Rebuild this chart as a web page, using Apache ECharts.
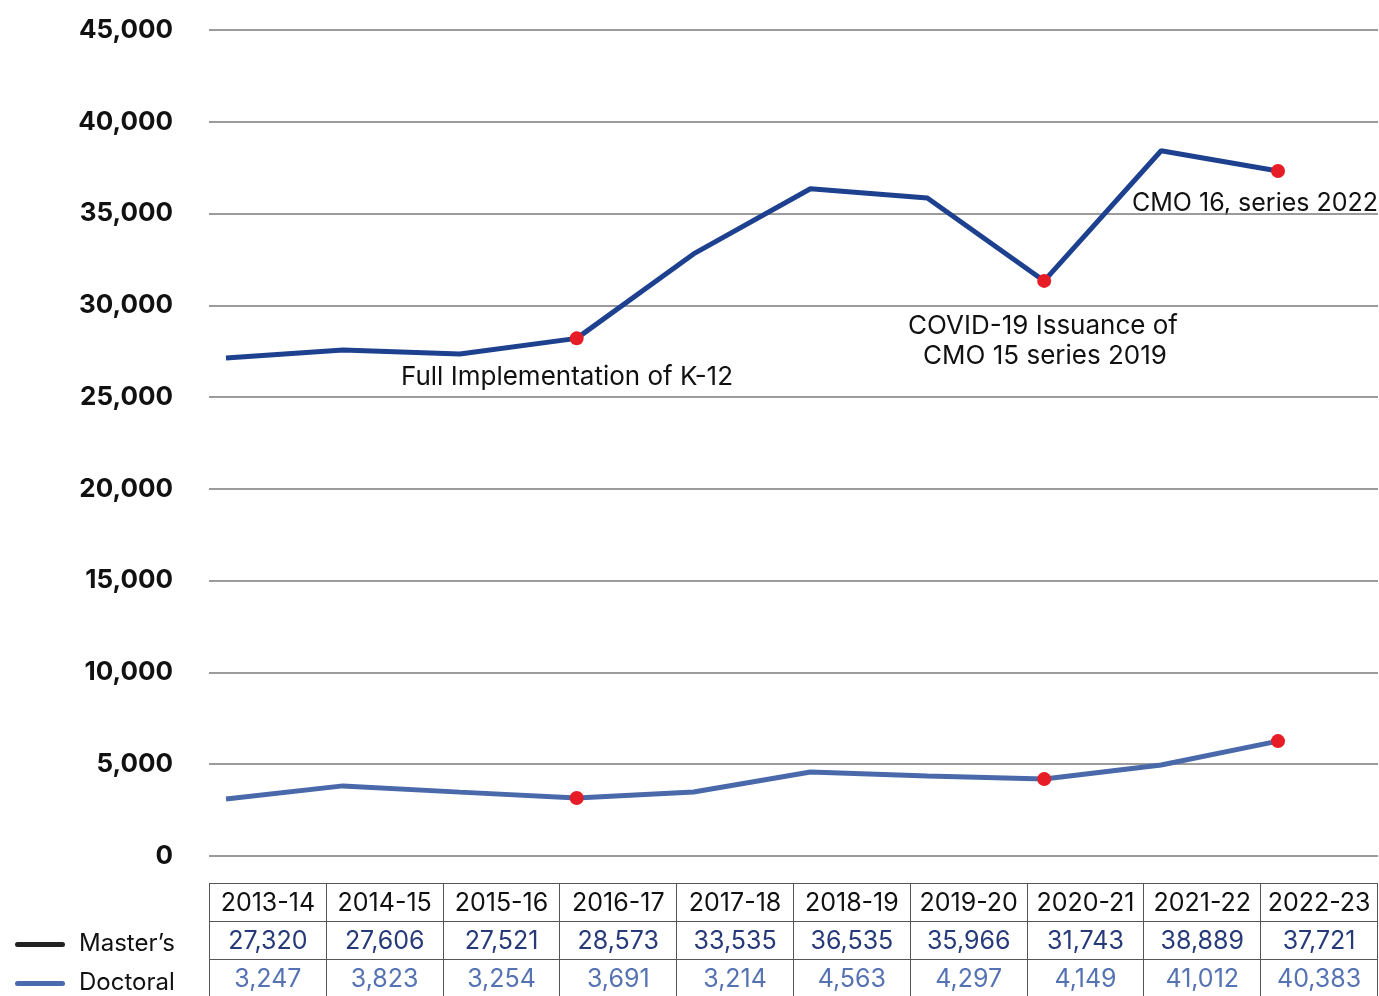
<!DOCTYPE html>
<html>
<head>
<meta charset="utf-8">
<script src="https://cdn.jsdelivr.net/npm/echarts@6/dist/echarts.min.js"></script>
<style>
  html, body { margin: 0; padding: 0; background: #fff; overflow: hidden; }
  #wrap { position: relative; width: 1379px; height: 996px; overflow: hidden; font-family: Inter, "Noto Sans", sans-serif; }
  #chart { position: absolute; left: 0; top: 0; width: 1379px; height: 996px; }
  table.data { position: absolute; left: 209px; top: 883px; width: 1169px; border-collapse: collapse; table-layout: fixed; }
  table.data td { border: 1.5px solid #555; height: 37px; padding: 0; text-align: center; font-size: 25px; line-height: 37px; white-space: nowrap; }
  table.data tr.head td { color: #111; }
  table.data tr.m td { color: #263a7a; border-top-color: #111; }
  table.data tr.d td { color: #5573b3; border-top-color: #111; }
  .leg { position: absolute; left: 15px; font-size: 24px; color: #111; line-height: 30px; }
  .leg i { display: inline-block; width: 50px; height: 5px; border-radius: 3px; vertical-align: middle; margin-right: 14px; }
</style>
</head>
<body>
<div id="wrap">
  <div id="chart"></div>
  <table class="data" id="tbl"></table>
  <div class="leg" style="top:928px"><i style="background:#222"></i>Master’s</div>
  <div class="leg" style="top:967px"><i style="background:#4a6aad"></i>Doctoral</div>
</div>
<script>
// categories
const years = ['2013-14', '2014-15', '2015-16', '2016-17', '2017-18', '2018-19', '2019-20', '2020-21', '2021-22', '2022-23'];
// values as drawn by the lines
const mastersLine = [27130, 27570, 27350, 28200, 32800, 36350, 35850, 31330, 38420, 37320];
const doctoralLine = [3100, 3820, 3480, 3160, 3490, 4580, 4360, 4190, 4960, 6260];
// values printed in the table
const mastersTable = ['27,320', '27,606', '27,521', '28,573', '33,535', '36,535', '35,966', '31,743', '38,889', '37,721'];
const doctoralTable = ['3,247', '3,823', '3,254', '3,691', '3,214', '4,563', '4,297', '4,149', '41,012', '40,383'];
// highlighted (red) points
const marked = [3, 7, 9];

// table
const tbl = document.getElementById('tbl');
const row = (cls, arr) => '<tr class="' + cls + '">' + arr.map(t => '<td>' + t + '</td>').join('') + '</tr>';
tbl.innerHTML = row('head', years) + row('m', mastersTable) + row('d', doctoralTable);

const myChart = echarts.init(document.getElementById('chart'));
const dots = (vals) => marked.map(i => [years[i], vals[i]]);
const fnt = 'Inter, "Noto Sans", sans-serif';

myChart.setOption({
  animation: false,
  textStyle: { fontFamily: fnt },
  grid: [
    { left: 209, right: 1, top: 30, bottom: 140 },
    { left: 226, right: 101, top: 30, bottom: 140 }
  ],
  xAxis: [
    { gridIndex: 0, type: 'value', min: 0, max: 1, show: false },
    { gridIndex: 1, type: 'category', data: years, boundaryGap: false, show: false }
  ],
  yAxis: [
    {
      gridIndex: 0, type: 'value', min: 0, max: 45000, interval: 5000,
      axisLine: { show: false }, axisTick: { show: false },
      axisLabel: {
        margin: 36, color: '#111', fontSize: 26, fontWeight: 'bold', fontFamily: fnt,
        formatter: v => v.toLocaleString('en-US')
      },
      splitLine: { lineStyle: { color: '#7a7a7a', width: 1.5 } }
    },
    { gridIndex: 1, type: 'value', min: 0, max: 45000, show: false, splitLine: { show: false } }
  ],
  series: [
    {
      name: 'Master’s', type: 'line', xAxisIndex: 1, yAxisIndex: 1,
      data: mastersLine, symbol: 'none',
      lineStyle: { color: '#1d418f', width: 5 }
    },
    {
      name: 'Doctoral', type: 'line', xAxisIndex: 1, yAxisIndex: 1,
      data: doctoralLine, symbol: 'none',
      lineStyle: { color: '#4a69aa', width: 5 }
    },
    {
      type: 'scatter', xAxisIndex: 1, yAxisIndex: 1, symbolSize: 14,
      itemStyle: { color: '#e61c26', opacity: 1 }, z: 5,
      data: dots(mastersLine).concat(dots(doctoralLine))
    }
  ],
  graphic: [
    { type: 'text', x: 567, y: 377, style: { text: 'Full Implementation of K-12', font: '26px ' + fnt, fill: '#111', align: 'center', verticalAlign: 'middle' } },
    { type: 'text', x: 1043, y: 326, style: { text: 'COVID-19 Issuance of', font: '26px ' + fnt, fill: '#111', align: 'center', verticalAlign: 'middle' } },
    { type: 'text', x: 1045, y: 356, style: { text: 'CMO 15 series 2019', font: '26px ' + fnt, fill: '#111', align: 'center', verticalAlign: 'middle' } },
    { type: 'text', x: 1378, y: 203, style: { text: 'CMO 16, series 2022', font: '25px ' + fnt, fill: '#111', align: 'right', verticalAlign: 'middle' } }
  ]
});
</script>
</body>
</html>
